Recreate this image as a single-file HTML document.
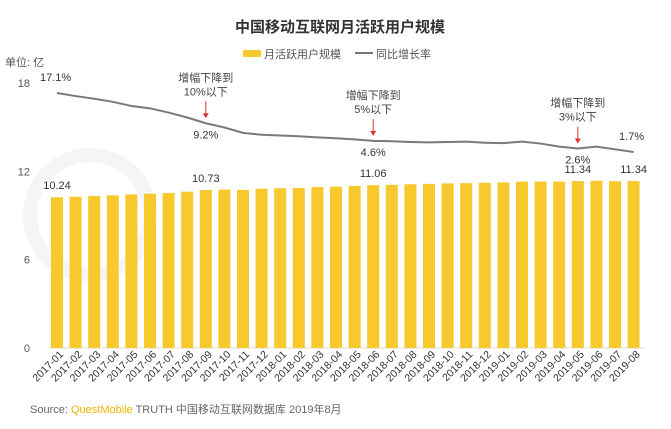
<!DOCTYPE html>
<html><head><meta charset="utf-8"><style>
body{margin:0;background:#fff;width:671px;height:424px;overflow:hidden;font-family:"Liberation Sans","Noto Sans CJK SC",sans-serif}
</style></head><body>
<svg id="c" width="671" height="424" font-family="Liberation Sans, Noto Sans CJK SC, sans-serif">
<text x="340" y="32" text-anchor="middle" font-size="15" font-weight="bold" fill="#333">中国移动互联网月活跃用户规模</text>
<g>
<rect x="243" y="50" width="18" height="7" fill="#f8c92c"/>
<text x="264" y="58" font-size="11" fill="#555">月活跃用户规模</text>
<rect x="355" y="52" width="18" height="2" fill="#777"/>
<text x="376" y="58" font-size="11" fill="#555">同比增长率</text>
</g>
<text x="5" y="66" font-size="11" fill="#555">单位: 亿</text>
<circle cx="90" cy="215" r="60" fill="none" stroke="#f5f5f5" stroke-width="14"/>
<g id="axes"></g><g id="bars"></g><g id="line"></g><g id="ann"></g>
<text x="30" y="413" font-size="11" fill="#666">Source:  <tspan fill="#f0b400">QuestMobile</tspan> TRUTH 中国移动互联网数据库 2019年8月</text>
</svg>
<script>
const categories=["2017-01","2017-02","2017-03","2017-04","2017-05","2017-06","2017-07","2017-08","2017-09","2017-10","2017-11","2017-12","2018-01","2018-02","2018-03","2018-04","2018-05","2018-06","2018-07","2018-08","2018-09","2018-10","2018-11","2018-12","2019-01","2019-02","2019-03","2019-04","2019-05","2019-06","2019-07","2019-08"];
const mau=[10.24,10.27,10.33,10.37,10.43,10.48,10.53,10.62,10.73,10.76,10.74,10.82,10.85,10.87,10.93,10.96,11.01,11.06,11.08,11.12,11.15,11.18,11.20,11.22,11.25,11.30,11.31,11.30,11.34,11.36,11.33,11.34];
const growth=[17.1,16.3,15.6,14.8,13.7,13.1,12.0,10.7,9.2,8.1,6.7,6.2,6.0,5.8,5.5,5.3,5.0,4.6,4.5,4.3,4.2,4.3,4.4,4.1,4.0,4.4,3.9,3.1,2.6,3.1,2.4,1.7];
const yTicks=[0,6,12,18];
const barLabelIdx=[0,8,17,28,31];
const growthLabelIdx=[0,8,17,28,31];
const annotations=[{i:8,l1:"增幅下降到",l2:"10%以下"},{i:17,l1:"增幅下降到",l2:"5%以下"},{i:28,l1:"增幅下降到",l2:"3%以下"}];
const NS="http://www.w3.org/2000/svg";
const x=i=>57+i*18.6;
const y=v=>348-v*(265/18);
const yp=v=>158.5-v*3.83;
function mk(t,a,p,txt){const e=document.createElementNS(NS,t);for(const k in a)e.setAttribute(k,a[k]);if(txt!=null)e.textContent=txt;p.appendChild(e);return e;}
const ax=document.getElementById('axes');
const bl=mk('line',{x1:48,x2:645,y1:y(0),y2:y(0),stroke:'#ddd'},ax);


yTicks.forEach(t=>{const e=mk('text',{x:30,y:y(t)+4,'text-anchor':'end','font-size':11,fill:'#555'},ax,t);

});
categories.forEach((c,i)=>{const e=mk('text',{transform:`translate(${x(i)+7},${y(0)+7}) rotate(-45)`,'text-anchor':'end','font-size':10.5,fill:'#333'},ax,c);

});
const bg=document.getElementById('bars');
mau.forEach((v,i)=>{const r=mk('rect',{x:x(i)-6,y:y(v),width:12,height:y(0)-y(v),fill:'#f8c92c'},bg);

});
barLabelIdx.forEach(i=>{const e=mk('text',{x:x(i),y:y(mau[i])-8,'text-anchor':'middle','font-size':11,fill:'#333'},bg,mau[i].toFixed(2));

});
const lg=document.getElementById('line');
const p=mk('polyline',{points:growth.map((v,i)=>x(i)+','+yp(v)).join(' '),fill:'none',stroke:'#7a7a7a','stroke-width':2},lg);


growthLabelIdx.forEach(i=>{const above=(i==0||i==31);const e=mk('text',{x:x(i)+(i==0?-17:i==31?-2:0),y:above?yp(growth[i])-12:yp(growth[i])+15,'text-anchor':i==0?'start':'middle','font-size':11,fill:'#333'},lg,growth[i].toFixed(1)+'%');

});
const ag=document.getElementById('ann');
annotations.forEach(a=>{const cx=x(a.i);const yl=yp(growth[a.i]);
const t1=mk('text',{x:cx,y:yl-42,'text-anchor':'middle','font-size':11,fill:'#444'},ag,a.l1);


const t2=mk('text',{x:cx,y:yl-28,'text-anchor':'middle','font-size':11,fill:'#444'},ag,a.l2);


const ln=mk('line',{x1:cx,x2:cx,y1:yl-22,y2:yl-9,stroke:'#d33','stroke-width':1},ag);


const hd=mk('polygon',{points:`${cx-3},${yl-10} ${cx+3},${yl-10} ${cx},${yl-5}`,fill:'#d33'},ag);

});
</script>
</body></html>
